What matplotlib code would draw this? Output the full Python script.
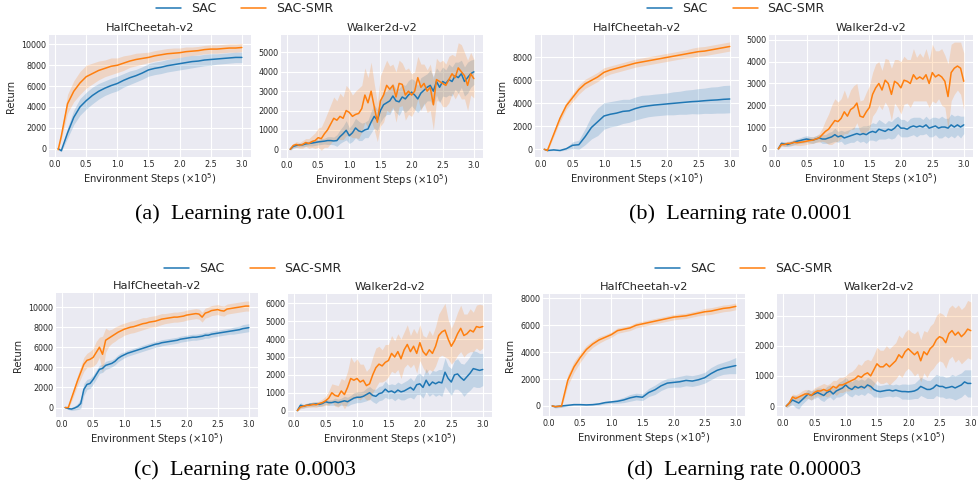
import numpy as np
import matplotlib.pyplot as plt
from matplotlib.ticker import MultipleLocator

# pas d'evaluation (x 1e5)
steps_coarse = [0.05, 0.1, 0.2, 0.3, 0.4, 0.5, 0.6, 0.7, 0.8, 0.9, 1.0,
                1.1, 1.2, 1.3, 1.4, 1.5, 1.6, 1.7, 1.8, 1.9, 2.0,
                2.1, 2.2, 2.3, 2.4, 2.5, 2.6, 2.7, 2.8, 2.9, 3.0]
steps_fine = [0.05, 0.1, 0.15, 0.2, 0.25, 0.3, 0.35, 0.4, 0.45, 0.5,
              0.55, 0.6, 0.65, 0.7, 0.75, 0.8, 0.85, 0.9, 0.95, 1.0,
              1.05, 1.1, 1.15, 1.2, 1.25, 1.3, 1.35, 1.4, 1.45, 1.5,
              1.55, 1.6, 1.65, 1.7, 1.75, 1.8, 1.85, 1.9, 1.95, 2.0,
              2.05, 2.1, 2.15, 2.2, 2.25, 2.3, 2.35, 2.4, 2.45, 2.5,
              2.55, 2.6, 2.65, 2.7, 2.75, 2.8, 2.85, 2.9, 2.95, 3.0]

# (a) lr 0.001
a_hc_sac = [0, -200, 1500, 3000, 4000, 4600, 5100, 5500, 5800, 6050, 6250,
            6550, 6800, 7000, 7250, 7550, 7700, 7800, 7950, 8050, 8150,
            8250, 8350, 8400, 8500, 8550, 8600, 8650, 8700, 8750, 8750]
a_hc_sac_sd = [0, 100, 500, 700, 800, 800, 800, 750, 700, 700, 700,
               650, 650, 600, 600, 600, 600, 600, 600, 600, 600,
               600, 600, 550, 550, 550, 500, 500, 500, 500, 500]
a_hc_smr = [-100, 1200, 4300, 5500, 6300, 6900, 7200, 7500, 7700, 7900, 8000,
            8200, 8400, 8550, 8650, 8750, 8900, 9000, 9100, 9150, 9200,
            9300, 9350, 9400, 9500, 9550, 9550, 9600, 9650, 9650, 9700]
a_hc_smr_sd = [0, 300, 900, 1000, 1100, 1100, 1000, 900, 800, 800, 700,
               700, 600, 600, 550, 500, 500, 500, 500, 500, 450,
               450, 400, 400, 400, 400, 400, 400, 400, 400, 400]

a_w_sac = [0, 150, 200, 220, 230, 280, 300, 320, 350, 380,
           400, 420, 450, 450, 430, 450, 650, 800, 980, 700,
           850, 1100, 950, 900, 1000, 1050, 1400, 1700, 1500, 2000,
           2300, 2400, 2500, 2750, 2500, 2450, 2700, 2600, 2800, 2950,
           2800, 2600, 2900, 3050, 3200, 3300, 3000, 3500, 3200, 3500,
           3400, 3600, 3500, 3800, 3700, 3900, 3500, 3700, 3900, 4000]
a_w_sac_sd = [50, 100, 100, 100, 100, 120, 120, 150, 150, 150,
              150, 150, 200, 200, 200, 300, 350, 400, 500, 400,
              450, 500, 500, 450, 400, 450, 550, 600, 550, 600,
              650, 600, 700, 650, 600, 700, 650, 700, 750, 700,
              750, 700, 800, 750, 700, 800, 750, 700, 800, 750,
              700, 800, 750, 700, 800, 700, 750, 800, 700, 650]
a_w_smr = [0, 200, 250, 200, 250, 350, 300, 400, 450, 600,
           550, 800, 1000, 1300, 1600, 1500, 1700, 1600, 2000, 1900,
           1700, 1800, 1850, 2100, 2800, 2400, 3000, 2200, 1400, 2500,
           2800, 3300, 3100, 3300, 2700, 3400, 3350, 2800, 3000, 2800,
           3000, 3700, 3200, 3400, 3000, 3200, 2300, 3600, 3500, 3400,
           3300, 3600, 3900, 3700, 4200, 4000, 3800, 3300, 3900, 3650]
a_w_smr_sd = [50, 100, 150, 150, 200, 200, 250, 300, 400, 500,
              600, 700, 900, 1000, 1100, 1000, 1200, 1100, 1300, 1200,
              1100, 1200, 1300, 1200, 1400, 1300, 1500, 1200, 1000, 1300,
              1400, 1300, 1200, 1100, 1300, 1200, 1100, 1300, 1200, 1100,
              1000, 1100, 1200, 1000, 1100, 1200, 1300, 1100, 1000, 1200,
              1100, 1200, 1000, 1100, 1300, 1400, 1200, 1300, 1100, 1000]

# (b) lr 0.0001
b_hc_sac = [0, -100, -50, -100, 50, 350, 400, 1100, 1900, 2400, 2900,
            3050, 3150, 3300, 3350, 3550, 3700, 3780, 3850, 3900, 3950,
            4000, 4050, 4100, 4150, 4180, 4230, 4270, 4300, 4350, 4380]
b_hc_sac_sd = [0, 50, 50, 50, 100, 300, 400, 700, 1000, 1200, 1150,
               1100, 1100, 1050, 1000, 1000, 1000, 950, 950, 950, 950,
               1000, 1000, 1050, 1050, 1100, 1100, 1150, 1150, 1200, 1200]
b_hc_smr = [0, -100, 1300, 2700, 3800, 4500, 5200, 5700, 6000, 6300, 6700,
            6900, 7050, 7200, 7350, 7500, 7600, 7700, 7800, 7900, 8000,
            8100, 8200, 8300, 8400, 8500, 8550, 8650, 8750, 8850, 8950]
b_hc_smr_sd = [0, 100, 200, 300, 300, 350, 400, 400, 400, 400, 400,
               350, 350, 350, 350, 350, 350, 350, 350, 350, 350,
               350, 350, 350, 400, 400, 400, 400, 400, 400, 400]

b_w_sac = [0, 250, 220, 200, 250, 300, 350, 380, 420, 450,
           420, 400, 450, 500, 450, 450, 500, 550, 650, 550,
           600, 500, 550, 600, 650, 700, 650, 700, 650, 750,
           800, 750, 900, 850, 800, 900, 850, 950, 1100, 950,
           950, 900, 1000, 1050, 1000, 1050, 1000, 1100, 950, 1000,
           1050, 950, 1000, 1000, 950, 1100, 1000, 1100, 1000, 1100]
b_w_sac_sd = [50, 100, 100, 100, 100, 120, 120, 130, 150, 150,
              150, 150, 150, 150, 200, 200, 250, 250, 300, 250,
              250, 300, 300, 300, 350, 300, 350, 350, 400, 350,
              400, 400, 450, 400, 350, 400, 400, 450, 400, 400,
              400, 350, 400, 400, 450, 400, 350, 400, 400, 450,
              400, 450, 500, 400, 450, 500, 500, 450, 500, 400]
b_w_smr = [0, 200, 200, 250, 250, 300, 280, 300, 320, 350,
           380, 400, 450, 500, 650, 800, 900, 1100, 1300, 1250,
           1400, 1700, 1500, 1800, 1900, 2100, 1500, 1450, 1700, 1900,
           2500, 2800, 3000, 2700, 3150, 3000, 2500, 3100, 3000, 2800,
           3150, 3100, 3000, 3400, 3200, 3300, 3200, 3400, 3000, 3500,
           3300, 3400, 3300, 3100, 2400, 3500, 3700, 3800, 3700, 3100]
b_w_smr_sd = [50, 80, 100, 100, 120, 120, 130, 150, 150, 150,
              150, 150, 150, 200, 300, 500, 700, 900, 1000, 900,
              900, 1000, 800, 900, 1000, 900, 700, 800, 900, 1000,
              1000, 1100, 1000, 900, 1000, 1100, 1200, 1000, 1100, 1200,
              1100, 1000, 1100, 1200, 1000, 1100, 1000, 1200, 1100, 1300,
              1200, 1100, 1300, 1200, 1500, 1300, 1200, 1100, 1200, 1300]

# (c) lr 0.0003
c_hc_sac = [0, -100, -150, -50, 100, 400, 1800, 2300, 2400, 2800,
            3300, 3800, 3900, 4200, 4300, 4400, 4600, 4900, 5100, 5250,
            5400, 5500, 5600, 5700, 5800, 5900, 6000, 6100, 6200, 6300,
            6350, 6450, 6500, 6550, 6600, 6650, 6700, 6800, 6850, 6900,
            6950, 7000, 7000, 7050, 7100, 7200, 7200, 7300, 7350, 7400,
            7450, 7500, 7550, 7600, 7650, 7700, 7750, 7850, 7900, 7950]
c_hc_sac_sd = [0, 100, 150, 200, 300, 500, 600, 500, 500, 450,
               450, 400, 400, 400, 400, 350, 350, 350, 350, 300,
               300, 300, 300, 300, 300, 300, 300, 300, 300, 300,
               300, 300, 300, 300, 300, 300, 300, 300, 300, 300,
               300, 300, 300, 300, 300, 300, 300, 300, 300, 300,
               300, 300, 300, 300, 350, 350, 350, 400, 400, 400]
c_hc_smr = [0, 0, 900, 1800, 2700, 3500, 4300, 4700, 4800, 5000,
            5500, 6000, 5300, 6700, 6900, 7100, 7300, 7500, 7650, 7800,
            7900, 8000, 8050, 8150, 8250, 8350, 8400, 8500, 8550, 8600,
            8700, 8800, 8850, 8900, 8950, 9000, 9000, 9050, 9100, 9200,
            9250, 9300, 9350, 9300, 9000, 9400, 9500, 9650, 9700, 9750,
            9650, 9600, 9800, 9850, 9900, 9950, 10000, 10050, 10100, 10100]
c_hc_smr_sd = [0, 100, 300, 400, 500, 600, 700, 700, 800, 900,
               1100, 1000, 1800, 1200, 800, 700, 700, 650, 650, 600,
               600, 600, 600, 600, 600, 600, 550, 550, 550, 550,
               550, 550, 500, 500, 500, 500, 500, 500, 500, 500,
               500, 500, 500, 500, 500, 500, 500, 500, 500, 500,
               500, 500, 500, 500, 500, 500, 500, 500, 500, 500]

c_w_sac = [0, 300, 250, 300, 350, 350, 380, 350, 400, 500,
           450, 450, 500, 450, 500, 550, 500, 600, 700, 750,
           750, 800, 900, 1000, 850, 800, 950, 1000, 1200, 1050,
           1100, 1000, 1150, 1050, 1100, 1200, 1300, 1150, 1450, 1500,
           1300, 1700, 1400, 1600, 1500, 1600, 1550, 2150, 1800, 1600,
           2000, 2050, 1850, 1700, 1900, 2100, 2350, 2300, 2250, 2300]
c_w_sac_sd = [50, 150, 100, 100, 100, 120, 120, 120, 130, 150,
              150, 150, 200, 200, 200, 250, 250, 250, 300, 300,
              300, 300, 350, 350, 350, 400, 400, 400, 450, 400,
              400, 450, 450, 450, 500, 500, 550, 500, 550, 600,
              600, 650, 600, 650, 700, 700, 750, 800, 700, 750,
              800, 850, 800, 900, 900, 950, 1000, 1000, 950, 900]
c_w_smr = [0, 200, 250, 300, 300, 350, 330, 400, 450, 550,
           700, 1000, 850, 800, 1100, 900, 1300, 1800, 1700, 1800,
           1600, 1700, 1400, 1500, 2000, 2400, 2600, 2500, 2700, 2800,
           3200, 3000, 3300, 2900, 3400, 3700, 3300, 3600, 3200, 3800,
           3300, 3100, 3400, 3200, 3600, 4200, 4400, 4500, 4000, 3600,
           3900, 4300, 4600, 4200, 4300, 4500, 4400, 4700, 4650, 4700]
c_w_smr_sd = [50, 100, 100, 120, 120, 150, 150, 150, 200, 250,
              400, 500, 600, 600, 700, 800, 900, 1200, 1000, 1100,
              1000, 900, 800, 900, 1000, 1100, 1000, 900, 1000, 900,
              1000, 900, 1000, 1100, 1000, 1100, 900, 1000, 1100, 1000,
              900, 1000, 1100, 1000, 1100, 1200, 1300, 1500, 1100, 1000,
              1100, 1200, 1300, 1200, 1100, 1200, 1100, 1200, 1300, 1200]

# (d) lr 0.00003
d_hc_sac = [0, -50, 0, 50, 100, 100, 80, 100, 150, 250, 300,
            350, 450, 600, 700, 650, 1000, 1200, 1500, 1700, 1750,
            1800, 1900, 1850, 1950, 2100, 2400, 2650, 2800, 2900, 3000]
d_hc_sac_sd = [50, 100, 100, 50, 50, 50, 50, 60, 80, 100, 100,
               150, 200, 250, 250, 250, 300, 350, 350, 350, 350,
               400, 400, 400, 400, 400, 450, 450, 450, 500, 600]
d_hc_smr = [0, -50, 0, 1900, 2900, 3600, 4200, 4600, 4900, 5100, 5300,
            5600, 5700, 5800, 6000, 6100, 6200, 6300, 6400, 6500, 6600,
            6650, 6700, 6800, 6900, 7000, 7050, 7150, 7250, 7300, 7400]
d_hc_smr_sd = [0, 50, 100, 400, 400, 350, 300, 250, 250, 200, 200,
               200, 200, 200, 200, 200, 200, 200, 200, 200, 200,
               200, 200, 200, 200, 250, 250, 250, 250, 250, 250]

d_w_sac = [0, 100, 200, 150, 100, 200, 300, 400, 350, 400,
           450, 400, 350, 450, 500, 400, 500, 550, 600, 700,
           600, 550, 650, 600, 650, 600, 700, 650, 550, 500,
           480, 500, 520, 530, 500, 530, 500, 480, 480, 470,
           480, 500, 550, 650, 600, 550, 550, 600, 700, 650,
           650, 600, 620, 650, 600, 650, 700, 800, 750, 750]
d_w_sac_sd = [50, 100, 150, 200, 200, 150, 150, 150, 150, 150,
              150, 200, 200, 200, 200, 200, 200, 250, 250, 250,
              250, 250, 250, 250, 250, 250, 250, 250, 250, 200,
              200, 200, 200, 200, 200, 200, 200, 250, 250, 250,
              250, 250, 300, 300, 300, 300, 300, 350, 350, 350,
              350, 350, 350, 400, 400, 400, 400, 400, 450, 450]
d_w_smr = [0, 100, 300, 250, 300, 350, 400, 400, 350, 450,
           500, 500, 550, 500, 550, 650, 600, 700, 700, 750,
           800, 850, 900, 1000, 950, 1050, 1100, 1000, 1200, 1400,
           1300, 1300, 1400, 1300, 1400, 1500, 1700, 1600, 1800, 1900,
           1800, 1700, 1800, 1500, 1800, 1700, 1900, 2000, 2200, 2300,
           2250, 2100, 2400, 2500, 2350, 2450, 2300, 2400, 2550, 2500]
d_w_smr_sd = [50, 100, 100, 120, 120, 150, 150, 150, 150, 150,
              150, 200, 200, 200, 200, 200, 250, 250, 250, 250,
              300, 300, 350, 400, 400, 450, 450, 500, 500, 550,
              550, 550, 600, 600, 600, 600, 650, 650, 650, 650,
              650, 700, 700, 700, 700, 750, 750, 750, 800, 800,
              800, 850, 850, 850, 900, 900, 900, 900, 950, 950]

BLUE = "#1f77b4"
ORANGE = "#ff7f0e"

plt.style.use("seaborn-v0_8-darkgrid")
plt.rcParams["font.family"] = ["DejaVu Sans"]
plt.rcParams["text.color"] = ".15"
plt.rcParams["axes.labelcolor"] = ".15"
plt.rcParams["xtick.color"] = ".15"
plt.rcParams["ytick.color"] = ".15"

W, H = 979, 482
fig = plt.figure(figsize=(W / 100, H / 100), dpi=100)


def add_ax(l, t, r, b):
    return fig.add_axes([l / W, 1 - b / H, (r - l) / W, (b - t) / H])


def draw(ax, x, sac, sac_sd, smr, smr_sd, title, ylim, ystep, ylabel):
    x = np.array(x)
    sac, sac_sd = np.array(sac), np.array(sac_sd)
    smr, smr_sd = np.array(smr), np.array(smr_sd)
    ax.fill_between(x, sac - sac_sd, sac + sac_sd, color=BLUE, alpha=0.2, lw=0)
    ax.fill_between(x, smr - smr_sd, smr + smr_sd, color=ORANGE, alpha=0.2, lw=0)
    l1, = ax.plot(x, sac, color=BLUE, lw=1.1, label="SAC")
    l2, = ax.plot(x, smr, color=ORANGE, lw=1.1, label="SAC-SMR")
    ax.set_xlim(-0.0975, 3.1475)
    ax.set_ylim(*ylim)
    ax.xaxis.set_major_locator(MultipleLocator(0.5))
    ax.yaxis.set_major_locator(MultipleLocator(ystep))
    ax.set_title(title, fontsize=8.2, pad=3)
    ax.set_xlabel(r"Environment Steps ($\times 10^5$)", fontsize=7.2, labelpad=2)
    if ylabel:
        ax.set_ylabel("Return", fontsize=7.2)
    ax.tick_params(labelsize=5.8, pad=2)
    return l1, l2


# (a)
h = draw(add_ax(49, 35, 251, 157), steps_coarse, a_hc_sac, a_hc_sac_sd,
         a_hc_smr, a_hc_smr_sd, "HalfCheetah-v2", (-800, 10900), 2000, True)
draw(add_ax(281, 35, 483, 158), steps_fine, a_w_sac, a_w_sac_sd,
     a_w_smr, a_w_smr_sd, "Walker2d-v2", (-450, 5900), 1000, False)
# (b)
draw(add_ax(535, 35, 739, 157), steps_coarse, b_hc_sac, b_hc_sac_sd,
     b_hc_smr, b_hc_smr_sd, "HalfCheetah-v2", (-670, 9950), 2000, True)
draw(add_ax(769, 35, 973, 157), steps_fine, b_w_sac, b_w_sac_sd,
     b_w_smr, b_w_smr_sd, "Walker2d-v2", (-375, 5225), 1000, False)
# (c)
draw(add_ax(56, 293, 258, 417), steps_fine, c_hc_sac, c_hc_sac_sd,
     c_hc_smr, c_hc_smr_sd, "HalfCheetah-v2", (-940, 11400), 2000, True)
draw(add_ax(288, 294, 492, 417), steps_fine, c_w_sac, c_w_sac_sd,
     c_w_smr, c_w_smr_sd, "Walker2d-v2", (-355, 6520), 1000, False)
# (d)
draw(add_ax(543, 294, 745, 416), steps_coarse, d_hc_sac, d_hc_sac_sd,
     d_hc_smr, d_hc_smr_sd, "HalfCheetah-v2", (-745, 8320), 2000, True)
draw(add_ax(777, 294, 980, 416), steps_fine, d_w_sac, d_w_sac_sd,
     d_w_smr, d_w_smr_sd, "Walker2d-v2", (-330, 3714), 1000, False)

# legendes et sous-titres
for cx, cy in [(245, 9), (736, 9), (253, 269), (744, 269)]:
    fig.legend(h, ["SAC", "SAC-SMR"], loc="center", bbox_to_anchor=(cx / W, 1 - cy / H),
               ncol=2, frameon=False, fontsize=9, handlelength=2, columnspacing=2,
               borderpad=0, borderaxespad=0)

captions = ["(a)  Learning rate 0.001", "(b)  Learning rate 0.0001",
            "(c)  Learning rate 0.0003", "(d)  Learning rate 0.00003"]
for txt, (cx, cy) in zip(captions, [(240, 214), (741, 214), (245, 470), (744, 470)]):
    fig.text(cx / W, 1 - cy / H, txt, family="Liberation Serif", fontsize=16,
             ha="center", va="center", color="black")

fig.savefig("out.png", dpi=100)
